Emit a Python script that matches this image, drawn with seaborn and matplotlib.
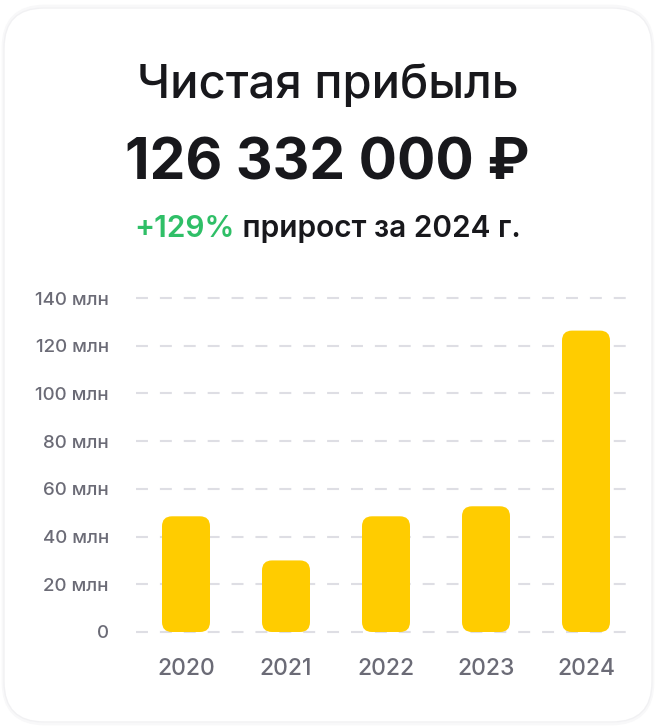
import matplotlib
matplotlib.use("Agg")
import matplotlib.pyplot as plt
from matplotlib.patches import FancyBboxPatch
import seaborn as sns
import pandas as pd

# ---- data ----
years = ["2020", "2021", "2022", "2023", "2024"]
profit_mln = [48.5, 30.0, 48.5, 52.7, 126.332]
y_ticks = [0, 20, 40, 60, 80, 100, 120, 140]
y_tick_labels = ["0", "20 млн", "40 млн", "60 млн", "80 млн", "100 млн", "120 млн", "140 млн"]
title_text = "Чистая прибыль"
total_text = "126 332 000 ₽"
growth_text = "+129%"
growth_rest = " прирост за 2024 г."

sns.set_theme(style="white")
plt.rcParams['font.family'] = ['Inter', 'DejaVu Sans']
plt.rcParams['lines.scale_dashes'] = False

W, H = 656, 728
fig = plt.figure(figsize=(W / 100, H / 100), dpi=100)
fig.patch.set_facecolor("white")

# ---- card background ----
bg = fig.add_axes([0, 0, 1, 1], zorder=-5)
bg.set_xlim(0, W)
bg.set_ylim(H, 0)
bg.axis("off")
bg.add_patch(FancyBboxPatch((3, 6), 650, 718, boxstyle="round,pad=0,rounding_size=42",
                            facecolor="none", edgecolor="#f8f8f9", lw=2.0))
bg.add_patch(FancyBboxPatch((4, 8), 648, 714, boxstyle="round,pad=0,rounding_size=40",
                            facecolor="white", edgecolor="#f1f1f3", lw=1.0))

# ---- texts ----
dark = "#18181c"
green = "#2fbf67"
fig.text(328 / W, 1 - 98 / H, title_text, ha="center", va="baseline",
         fontsize=34, fontweight="medium", color=dark)
fig.text(327 / W, 1 - 180 / H, total_text, ha="center", va="baseline",
         fontsize=41, fontweight="bold", color=dark)

renderer = fig.canvas.get_renderer()
t1 = fig.text(0, 1 - 237 / H, growth_text, ha="left", va="baseline",
              fontsize=21.5, fontweight="semibold", color=green)
t2 = fig.text(0, 1 - 237 / H, growth_rest, ha="left", va="baseline",
              fontsize=21.5, fontweight="semibold", color=dark)
w1 = t1.get_window_extent(renderer).width
w2 = t2.get_window_extent(renderer).width
x0 = 327.5 - (w1 + w2) / 2
t1.set_x(x0 / W)
t2.set_x((x0 + w1) / W)

# ---- chart ----
ax_left, ax_right = 136, 636
ax_top, ax_bottom = 298, 632
ax = fig.add_axes([ax_left / W, 1 - ax_bottom / H, (ax_right - ax_left) / W, (ax_bottom - ax_top) / H])
ax.set_facecolor("none")

df = pd.DataFrame({"year": years, "profit": profit_mln})
sns.barplot(data=df, x="year", y="profit", color="#FFCC00", width=0.48,
            saturation=1, ax=ax, zorder=3)
ax.set_xlim(-0.5, len(years) - 0.5)
ax.set_ylim(0, 140)

# rounded bars
px_per_x = (ax_right - ax_left) / len(years)
px_per_y = (ax_bottom - ax_top) / 140.0
radius_px = 10
for p in list(ax.patches):
    x, y = p.get_x(), p.get_y()
    w, h = p.get_width(), p.get_height()
    fc = p.get_facecolor()
    p.remove()
    rp = FancyBboxPatch((x, y), w, h,
                        boxstyle=f"round,pad=0,rounding_size={radius_px / px_per_x}",
                        mutation_aspect=px_per_x / px_per_y,
                        facecolor=fc, edgecolor="none", zorder=3, clip_on=False)
    ax.add_patch(rp)

for yt in y_ticks:
    ax.axhline(yt, color="#dedee4", lw=1.5, ls=(0, (8.6, 8.6)), zorder=1, clip_on=False)

ax.set_yticks(y_ticks)
ax.set_yticklabels(y_tick_labels)
ax.set_xlabel("")
ax.set_ylabel("")
gray = "#6b6b76"
ax.tick_params(axis="y", length=0, pad=19.5, labelsize=13.5, labelcolor=gray)
ax.tick_params(axis="x", length=0, pad=19, labelsize=16.5, labelcolor=gray)
for lab in ax.get_xticklabels() + ax.get_yticklabels():
    lab.set_fontweight("medium")
for s in ax.spines.values():
    s.set_visible(False)
ax.grid(False)

fig.savefig("out.png", dpi=100, facecolor="white")
